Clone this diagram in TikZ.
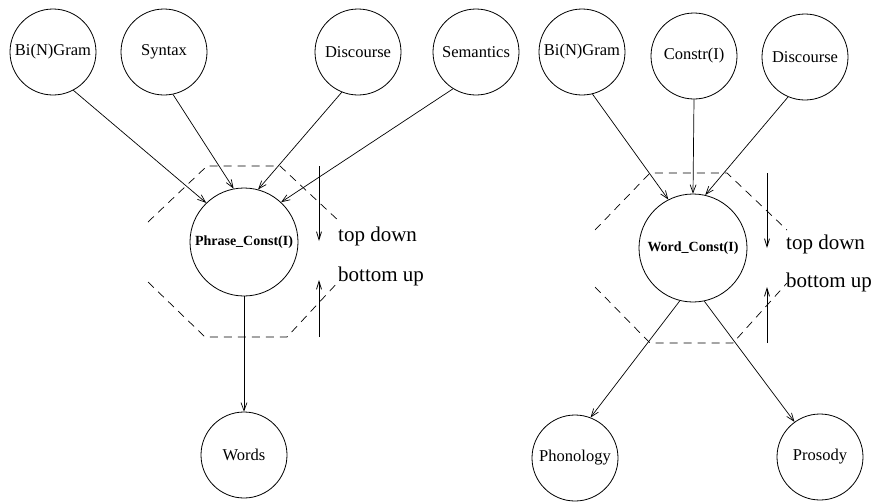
\documentclass[tikz,border=0pt]{standalone}
\usepackage{fontspec}
\setmainfont{Liberation Serif}
\newfontfamily\timesface{Liberation Serif}
\usetikzlibrary{arrows.meta}
\begin{document}
\begin{tikzpicture}[x=1pt,y=-1pt,
  src/.style={circle,draw,line width=0.8pt,minimum size=86pt,inner sep=0pt,
    font=\timesface\fontsize{16.5}{18}\selectfont},
  hub/.style={circle,draw,line width=0.8pt,minimum size=108pt,inner sep=0pt,
    font=\timesface\fontsize{14}{16}\selectfont\bfseries},
  link/.style={line width=0.7pt,-{Straight Barb[length=8pt,width=6pt]}},
  frame/.style={dash pattern=on 8pt off 6pt,line width=0.7pt},
  flow/.style={line width=0.8pt,-{Straight Barb[length=8pt,width=5pt]}},
  note/.style={anchor=base west,inner sep=0pt,font=\timesface\fontsize{21}{24}\selectfont}]
\useasboundingbox (0,0) rectangle (876,501);

% ---------- phrase level ----------
\node[src] (bgL)  at (53,52)  {Bi(N)Gram};
\node[src] (syn)  at (164,52) {Syntax};
\node[src] (disL) at (358,52) {Discourse};
\node[src] (sem)  at (476,52) {Semantics};
\node[hub] (pc)   at (244,242) {Phrase\_Const(I)};
\node[src] (wrd)  at (244,455) {Words};

\draw[link] (bgL.-62)   -- (pc.134);
\draw[link] (syn.-78)   -- (pc.101);
\draw[link] (disL.-112) -- (pc.75);
\draw[link] (sem.-122)  -- (pc.47);
\draw[link] (pc.south)  -- (wrd.north);

\draw[frame] (148,222) -- (207,166) -- (280,166) -- (340,222);
\draw[frame] (148,282) -- (205,337) -- (287,337) -- (340,280);

\coordinate (tdLa) at (319,166);
\coordinate (tdLb) at (319,241);
\coordinate (buLa) at (319,337);
\coordinate (buLb) at (319,280);
\draw[flow] (tdLa) -- (tdLb);
\draw[flow] (buLa) -- (buLb);
\node[note] (tdL) at (338,241) {top down};
\node[note] (buL) at (338,281) {bottom up};

% ---------- word level ----------
\node[src] (bgR)  at (582,52)  {Bi(N)Gram};
\node[src] (con)  at (694,56)  {Constr(I)};
\node[src] (disR) at (805,57)  {Discourse};
\node[hub] (wc)   at (693,248) {Word\_Const(I)};
\node[src] (pho)  at (575,458) {Phonology};
\node[src] (pro)  at (820,457) {Prosody};

\draw[link] (bgR.-76)   -- (wc.117);
\draw[link] (con.south) -- (wc.north);
\draw[link] (disR.-113) -- (wc.77);
\draw[link] (wc.-104)   -- (pho.69);
\draw[link] (wc.-78)    -- (pro.126);

\draw[frame] (595,230) -- (650,173) -- (727,173) -- (787,230);
\draw[frame] (595,287) -- (650,343) -- (733,343) -- (787,283);

\coordinate (tdRa) at (767,173);
\coordinate (tdRb) at (767,248);
\coordinate (buRa) at (767,343);
\coordinate (buRb) at (767,287);
\draw[flow] (tdRa) -- (tdRb);
\draw[flow] (buRa) -- (buRb);
\node[note] (tdR) at (786,249) {top down};
\node[note] (buR) at (786,287) {bottom up};
\end{tikzpicture}
\end{document}
